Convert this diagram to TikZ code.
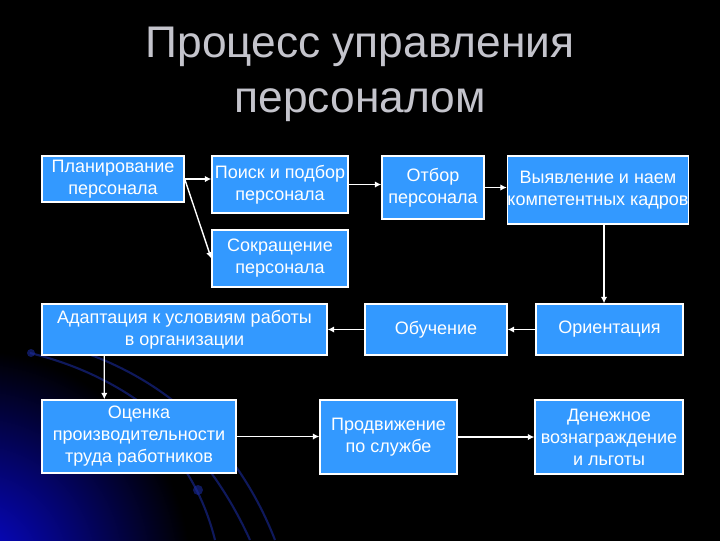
\documentclass[tikz,border=0pt]{standalone}
\usepackage{fontspec}
\setmainfont{Liberation Sans}
\usetikzlibrary{arrows.meta, calc}
\definecolor{cbox}{HTML}{3399FF}
\definecolor{ctitle}{HTML}{C4C4CC}
\definecolor{cdeep}{HTML}{0808D8}
\definecolor{cswirl}{HTML}{1A2A9A}
\pgfdeclareradialshading{glow}{\pgfpoint{0bp}{0bp}}{color(0bp)=(cdeep); color(2.8bp)=(cdeep!50!black); color(5.5bp)=(black); color(50bp)=(black)}
\tikzset{
  every picture/.style={line width=1pt},
  box/.style={draw=white, fill=cbox, text=white, align=center, inner sep=1pt, font=\fontsize{12.8}{15.6}\selectfont},
  arrow/.style={-{Latex[length=1.6mm, width=1.6mm]}, draw=white, line width=1pt},
  title/.style={font=\fontsize{31.5}{39}\selectfont, text=ctitle, align=center, inner sep=0pt},
  swirl/.style={draw=cswirl, line width=1.5pt, opacity=0.6},
}

\begin{document}
\begin{tikzpicture}[x=0.025cm, y=-0.025cm]
  \useasboundingbox (0,0) rectangle (720,540);
  % background
  \begin{scope}
    \clip (-10,-10) rectangle (730,550);
    \fill[black] (-10,-10) rectangle (730,550);
    \shade[shading=glow] (-1030,-430) rectangle (970,1570);
    \draw[swirl] (30,353) .. controls (120,375) and (200,430) .. (250,540);
    \draw[swirl] (60,345) .. controls (170,375) and (240,450) .. (275,540);
    \draw[swirl] (150,430) .. controls (185,460) and (205,500) .. (215,540);
    \fill[cswirl, opacity=0.6] (31,353) circle (4);
    \fill[cswirl, opacity=0.6] (198,490) circle (5);
  \end{scope}

  \node[title, anchor=north] (head) at (360,26) {Процесс управления\\персоналом};

  % top row
  \node[box, minimum width=35.5mm, minimum height=11.5mm] (plan) at (113,179) {Планирование\\персонала};
  \node[box, minimum width=34mm, minimum height=14.25mm] (search) at (280,184.5) {Поиск и подбор\\персонала};
  \node[box, minimum width=34mm, minimum height=14.25mm] (cut) at (280,258.5) {Сокращение\\персонала};
  \node[box, minimum width=25.5mm, minimum height=15.75mm] (select) at (433,187.5) {Отбор\\персонала};
  \node[box, minimum width=45mm, minimum height=17mm, inner xsep=0pt] (hire) at (598,190) {Выявление и наем\\компетентных кадров};

  % middle row
  \node[box, minimum width=36.75mm, minimum height=12.75mm] (orient) at (609.5,329.5) {Ориентация};
  \node[box, minimum width=35.5mm, minimum height=12.75mm] (train) at (436,329.5) {Обучение};
  \node[box, minimum width=71.25mm, minimum height=12.75mm] (adapt) at (184.5,329.5) {Адаптация к условиям работы\\в организации};

  % bottom row
  \node[box, minimum width=48.5mm, minimum height=18.25mm] (assess) at (139,436.5) {Оценка\\производительности\\труда работников};
  \node[box, minimum width=34.25mm, minimum height=18.5mm] (promo) at (388.5,437) {Продвижение\\по службе};
  \node[box, minimum width=37mm, minimum height=18.5mm] (reward) at (609,437) {Денежное\\вознаграждение\\и льготы};

  \foreach \u/\v in {plan/search,search/select,select/hire,assess/promo,promo/reward}
    \draw[arrow] (\u.east) -- (\u.east -| \v.west);
  \foreach \u/\v in {orient/train,train/adapt}
    \draw[arrow] (\u.west) -- (\u.west -| \v.east);
  \draw[arrow] (plan.east) -- (cut.west);
  \draw[arrow] ([xshift=1.5mm]hire.south) -- ([xshift=1.5mm]hire.south |- orient.north);
  \draw[arrow] ([xshift=15.75mm]adapt.south west) -- ([xshift=15.75mm]assess.north west);
\end{tikzpicture}
\end{document}
